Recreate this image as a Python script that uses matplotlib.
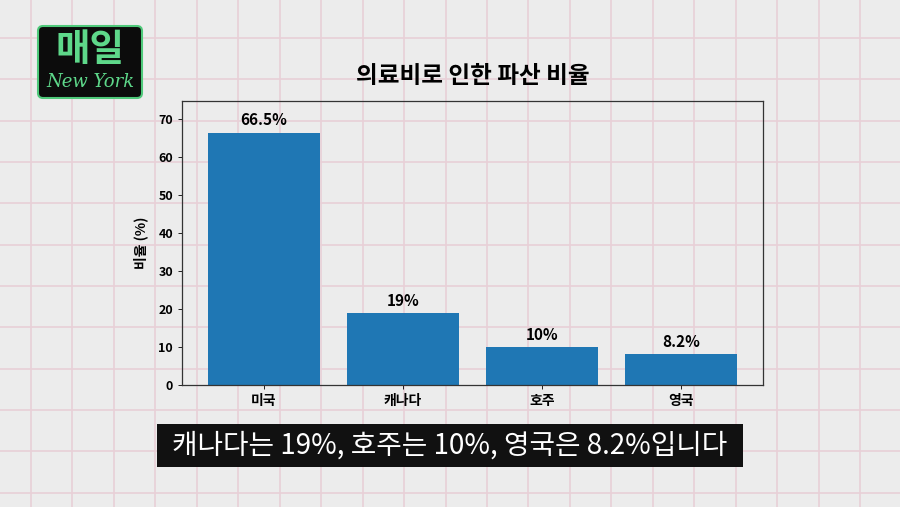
import numpy as np
import matplotlib
matplotlib.use('Agg')
import matplotlib.pyplot as plt
from matplotlib.patches import FancyBboxPatch

plt.rcParams['font.family'] = ['Noto Sans CJK KR', 'DejaVu Sans']

# data
countries = ['미국', '캐나다', '호주', '영국']
rates = [66.5, 19, 10, 8.2]
rate_labels = ['66.5%', '19%', '10%', '8.2%']
title = '의료비로 인한 파산 비율'
ylabel = '비율 (%)'
subtitle = '캐나다는 19%, 호주는 10%, 영국은 8.2%입니다'

W, H = 900, 507
fig = plt.figure(figsize=(9, 5.07), dpi=100)
fig.patch.set_facecolor('#ececec')

# paper background with pink grid (pixel coords)
bg = fig.add_axes([0, 0, 1, 1], zorder=0)
bg.set_xlim(0, W)
bg.set_ylim(H, 0)
bg.set_facecolor('#ececec')
bg.set_axisbelow(True)
bg.set_xticks(np.arange(31, W, 41.45))
bg.set_yticks(np.arange(38, H, 41.35))
bg.grid(True, color='#e8d0d7', lw=1.2)
bg.tick_params(length=0, labelbottom=False, labelleft=False)
for s in bg.spines.values():
    s.set_visible(False)

# logo
bg.add_patch(FancyBboxPatch((38, 26), 104, 72, boxstyle='round,pad=0,rounding_size=5',
                            fc='#0c0c0c', ec='#4fc97a', lw=1.5, zorder=3))
bg.text(90, 49, '매일', color='#5ed88a', fontsize=27, fontweight='black',
        ha='center', va='center', zorder=4)
bg.text(90, 82, 'New York', color='#5ed88a', fontsize=13, style='italic',
        family='DejaVu Serif', ha='center', va='center', zorder=4)

# subtitle box
bg.add_patch(plt.Rectangle((157, 424), 586, 43, fc='#111111', ec='none', zorder=3))
bg.text(450, 446, subtitle, color='white', fontsize=20, fontweight='medium',
        ha='center', va='center', zorder=4)

# chart
ax = fig.add_axes([182 / W, 1 - 385 / H, (763 - 182) / W, (385 - 101) / H], zorder=1)
ax.patch.set_alpha(0)
x = np.arange(len(countries))
bars = ax.bar(x, rates, width=0.8, color='#1f77b4')
ax.set_ylim(0, max(rates) * 1.125)
ax.set_xticks(x)
ax.set_xticklabels(countries, fontsize=10, fontweight='bold')
ax.set_yticks(np.arange(0, 80, 10))
ax.tick_params(axis='y', labelsize=9, length=3, width=0.6)
ax.tick_params(axis='x', length=3, width=0.6)
for lab in ax.get_yticklabels():
    lab.set_fontweight('bold')
for s in ax.spines.values():
    s.set_color('#333333')
    s.set_linewidth(0.9)
ax.set_ylabel(ylabel, fontsize=10, fontweight='bold', labelpad=7)
ax.set_title(title, fontsize=17, fontweight='bold', pad=13)
for b, lab in zip(bars, rate_labels):
    ax.annotate(lab, (b.get_x() + b.get_width() / 2, b.get_height()),
                xytext=(0, 3), textcoords='offset points',
                ha='center', va='bottom', fontsize=11, fontweight='bold')

fig.savefig('out.png', dpi=100, facecolor=fig.get_facecolor())
